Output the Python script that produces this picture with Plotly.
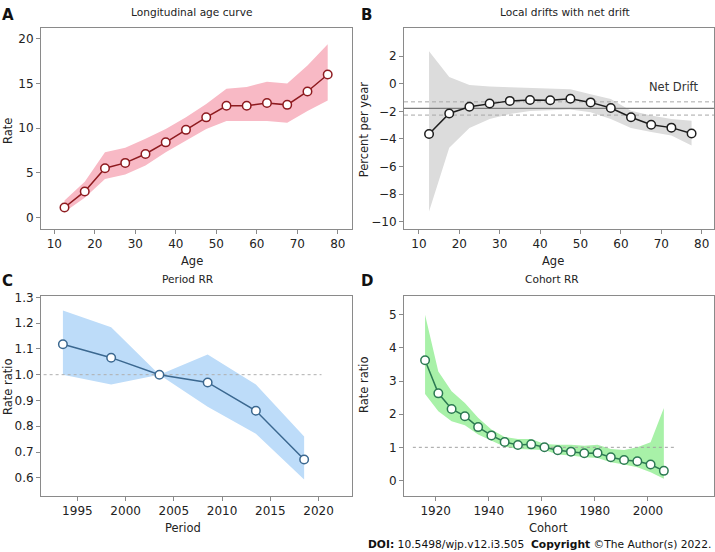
import plotly.graph_objects as go

W, H = 715, 552

# ---------------- data ----------------
age = [12.5, 17.5, 22.5, 27.5, 32.5, 37.5, 42.5, 47.5, 52.5, 57.5, 62.5, 67.5, 72.5, 77.5]
age_rate = [1.1, 2.9, 5.5, 6.1, 7.1, 8.4, 9.8, 11.2, 12.5, 12.5, 12.8, 12.6, 14.1, 16.0]
age_rate_hi = [1.9, 4.0, 7.3, 7.8, 8.8, 9.9, 11.2, 12.7, 14.4, 14.6, 15.2, 15.0, 17.0, 19.4]
age_rate_lo = [0.6, 2.2, 4.3, 4.8, 5.8, 7.3, 8.6, 9.9, 10.8, 10.8, 10.8, 10.6, 11.9, 13.1]

local_drift = [-3.64, -2.15, -1.67, -1.43, -1.24, -1.17, -1.19, -1.09, -1.35, -1.76, -2.43, -2.97, -3.18, -3.61]
local_drift_hi = [2.36, 0.49, -0.09, -0.2, -0.25, -0.3, -0.4, -0.4, -0.76, -1.1, -1.96, -2.3, -2.56, -2.68]
local_drift_lo = [-9.27, -4.64, -3.2, -2.56, -2.2, -1.98, -1.9, -1.86, -2.07, -2.56, -3.2, -3.5, -3.76, -4.48]
net_drift = -1.79
net_drift_ci = [-2.27, -1.31]

period = [1993.5, 1998.5, 2003.5, 2008.5, 2013.5, 2018.5]
period_rr = [1.118, 1.066, 1.0, 0.970, 0.860, 0.671]
period_rr_hi = [1.249, 1.184, 1.0, 1.078, 0.962, 0.760]
period_rr_lo = [1.0, 0.962, 1.0, 0.876, 0.771, 0.594]

cohort = [1916, 1921, 1926, 1931, 1936, 1941, 1946, 1951, 1956, 1961, 1966, 1971, 1976, 1981, 1986, 1991, 1996, 2001, 2006]
cohort_rr = [3.63, 2.63, 2.16, 1.94, 1.61, 1.36, 1.16, 1.07, 1.09, 1.0, 0.91, 0.87, 0.82, 0.83, 0.70, 0.62, 0.58, 0.48, 0.29]
cohort_rr_hi = [5.0, 3.29, 2.69, 2.34, 1.89, 1.54, 1.31, 1.25, 1.25, 1.1, 1.08, 1.08, 1.05, 1.08, 0.95, 0.92, 1.0, 1.15, 2.19]
cohort_rr_lo = [2.61, 2.09, 1.79, 1.67, 1.39, 1.2, 1.02, 0.95, 0.93, 0.92, 0.78, 0.75, 0.70, 0.68, 0.55, 0.48, 0.40, 0.25, 0.05]

panel_titles = ["Longitudinal age curve", "Local drifts with net drift", "Period RR", "Cohort RR"]
panel_letters = ["A", "B", "C", "D"]

FONT = "DejaVu Sans"
TXT = "#222222"
AX = "#8a8a8a"


def px(xp):
    return xp / W


def py(yp):
    return 1 - yp / H


fig = go.Figure()


def band(x, lo, hi, color, xa, ya):
    fig.add_trace(go.Scatter(
        x=list(x) + list(x)[::-1], y=list(hi) + list(lo)[::-1],
        fill="toself", fillcolor=color, line=dict(width=0), mode="lines",
        hoverinfo="skip", showlegend=False, xaxis=xa, yaxis=ya))


def curve(x, y, color, xa, ya):
    fig.add_trace(go.Scatter(
        x=x, y=y, mode="lines+markers",
        line=dict(color=color, width=1.5),
        marker=dict(size=8.5, color="white", line=dict(color=color, width=1.5)),
        showlegend=False, xaxis=xa, yaxis=ya))


def hline(x0, x1, yv, color, dash, width, xa, ya):
    fig.add_trace(go.Scatter(
        x=[x0, x1], y=[yv, yv], mode="lines",
        line=dict(color=color, dash=dash, width=width),
        hoverinfo="skip", showlegend=False, xaxis=xa, yaxis=ya))


# A
band(age, age_rate_lo, age_rate_hi, "#f8b9c5", "x", "y")
curve(age, age_rate, "#8e1a1f", "x", "y")
# B
band(age, local_drift_lo, local_drift_hi, "#dcdcdc", "x2", "y2")
hline(6.3, 83.05, net_drift_ci[1], "#a8a8a8", "4px,3px", 1, "x2", "y2")
hline(6.3, 83.05, net_drift_ci[0], "#a8a8a8", "4px,3px", 1, "x2", "y2")
hline(6.3, 83.05, net_drift, "#7a7a7a", "solid", 1.3, "x2", "y2")
curve(age, local_drift, "#1e1e1e", "x2", "y2")
# C
band(period, period_rr_lo, period_rr_hi, "#bddcf9", "x3", "y3")
hline(1991.5, 2020.3, 1.0, "#b0b0b0", "dot", 1, "x3", "y3")
curve(period, period_rr, "#3b6890", "x3", "y3")
# D
band(cohort, cohort_rr_lo, cohort_rr_hi, "#a8f1a8", "x4", "y4")
hline(1911.4, 2009.8, 1.0, "#a0a0a0", "dot", 1, "x4", "y4")
curve(cohort, cohort_rr, "#2c7a52", "x4", "y4")


def axis_common():
    return dict(showline=True, linecolor=AX, linewidth=1, mirror=True,
                ticks="outside", ticklen=4, tickcolor=AX, showgrid=False,
                zeroline=False, tickfont=dict(family=FONT, size=12, color=TXT))


xdomL = [px(41), px(352)]
xdomR = [px(404), px(714)]
ydomT = [py(226), py(23.3)]
ydomB = [py(495.5), py(293.3)]

fig.update_layout(
    width=W, height=H, margin=dict(l=0, r=0, t=0, b=0),
    paper_bgcolor="white", plot_bgcolor="white",
    font=dict(family=FONT, size=11, color=TXT),
    xaxis=dict(domain=xdomL, range=[6.7, 83.5], tickvals=[10, 20, 30, 40, 50, 60, 70, 80], anchor="y", **axis_common()),
    yaxis=dict(domain=ydomT, range=[-1.3, 21.2], tickvals=[0, 5, 10, 15, 20], anchor="x", **axis_common()),
    xaxis2=dict(domain=xdomR, range=[6.3, 83.05], tickvals=[10, 20, 30, 40, 50, 60, 70, 80], anchor="y2", **axis_common()),
    yaxis2=dict(domain=ydomT, range=[-10.53, 4.04], tickvals=[2, 0, -2, -4, -6, -8, -10], anchor="x2", **axis_common()),
    xaxis3=dict(domain=xdomL, range=[1991.23, 2023.46], tickvals=[1995, 2000, 2005, 2010, 2015, 2020], anchor="y3", **axis_common()),
    yaxis3=dict(domain=ydomB, range=[0.5295, 1.3065], tickvals=[0.6, 0.7, 0.8, 0.9, 1.0, 1.1, 1.2, 1.3], tickformat=".1f", anchor="x3", **axis_common()),
    xaxis4=dict(domain=xdomR, range=[1908.06, 2024.9], tickvals=[1920, 1940, 1960, 1980, 2000], anchor="y4", **axis_common()),
    yaxis4=dict(domain=ydomB, range=[-0.47, 5.58], tickvals=[0, 1, 2, 3, 4, 5], anchor="x4", **axis_common()),
)

ann = []


def text(x, y, s, size=10.6, bold=False, angle=0, xanchor="center", color=TXT):
    ann.append(dict(x=px(x), y=py(y), xref="paper", yref="paper", text=("<b>%s</b>" % s) if bold else s,
                    showarrow=False, xanchor=xanchor, yanchor="middle", textangle=angle,
                    font=dict(family=FONT, size=size, color=color)))


# panel titles
text(191.7, 7, panel_titles[0])
text(565, 7, panel_titles[1])
text(188.3, 277, panel_titles[2])
text(551.7, 277, panel_titles[3])
# panel letters
text(0, 10, panel_letters[0], size=15, bold=True, xanchor="left", color="#111")
text(359, 10, panel_letters[1], size=15, bold=True, xanchor="left", color="#111")
text(0, 279, panel_letters[2], size=15, bold=True, xanchor="left", color="#111")
text(359, 279, panel_letters[3], size=15, bold=True, xanchor="left", color="#111")
# axis titles
text(191.7, 258, "Age", size=11.5)
text(553, 258, "Age", size=11.5)
text(183, 528, "Period", size=11.5)
text(548, 528, "Cohort", size=11.5)
text(7.5, 127.7, "Rate", angle=-90, size=11.5)
text(363.5, 125, "Percent per year", angle=-90, size=11.5)
text(7.5, 385, "Rate ratio", angle=-90, size=11.5)
text(363.5, 383, "Rate ratio", angle=-90, size=11.5)
# net drift label
ann.append(dict(x=73.0, y=-0.23, xref="x2", yref="y2", text="Net Drift", showarrow=False,
                font=dict(family=FONT, size=11.5, color="#333")))
# footer
text(713, 544, "<b>DOI:</b> 10.5498/wjp.v12.i3.505  <b>Copyright</b> ©The Author(s) 2022.", size=10.7,
     xanchor="right", color="#111")

fig.update_layout(annotations=ann)
fig.write_html("out.html", config={"displayModeBar": False},
               post_script="document.body.style.margin='0';document.body.style.overflow='hidden';")
